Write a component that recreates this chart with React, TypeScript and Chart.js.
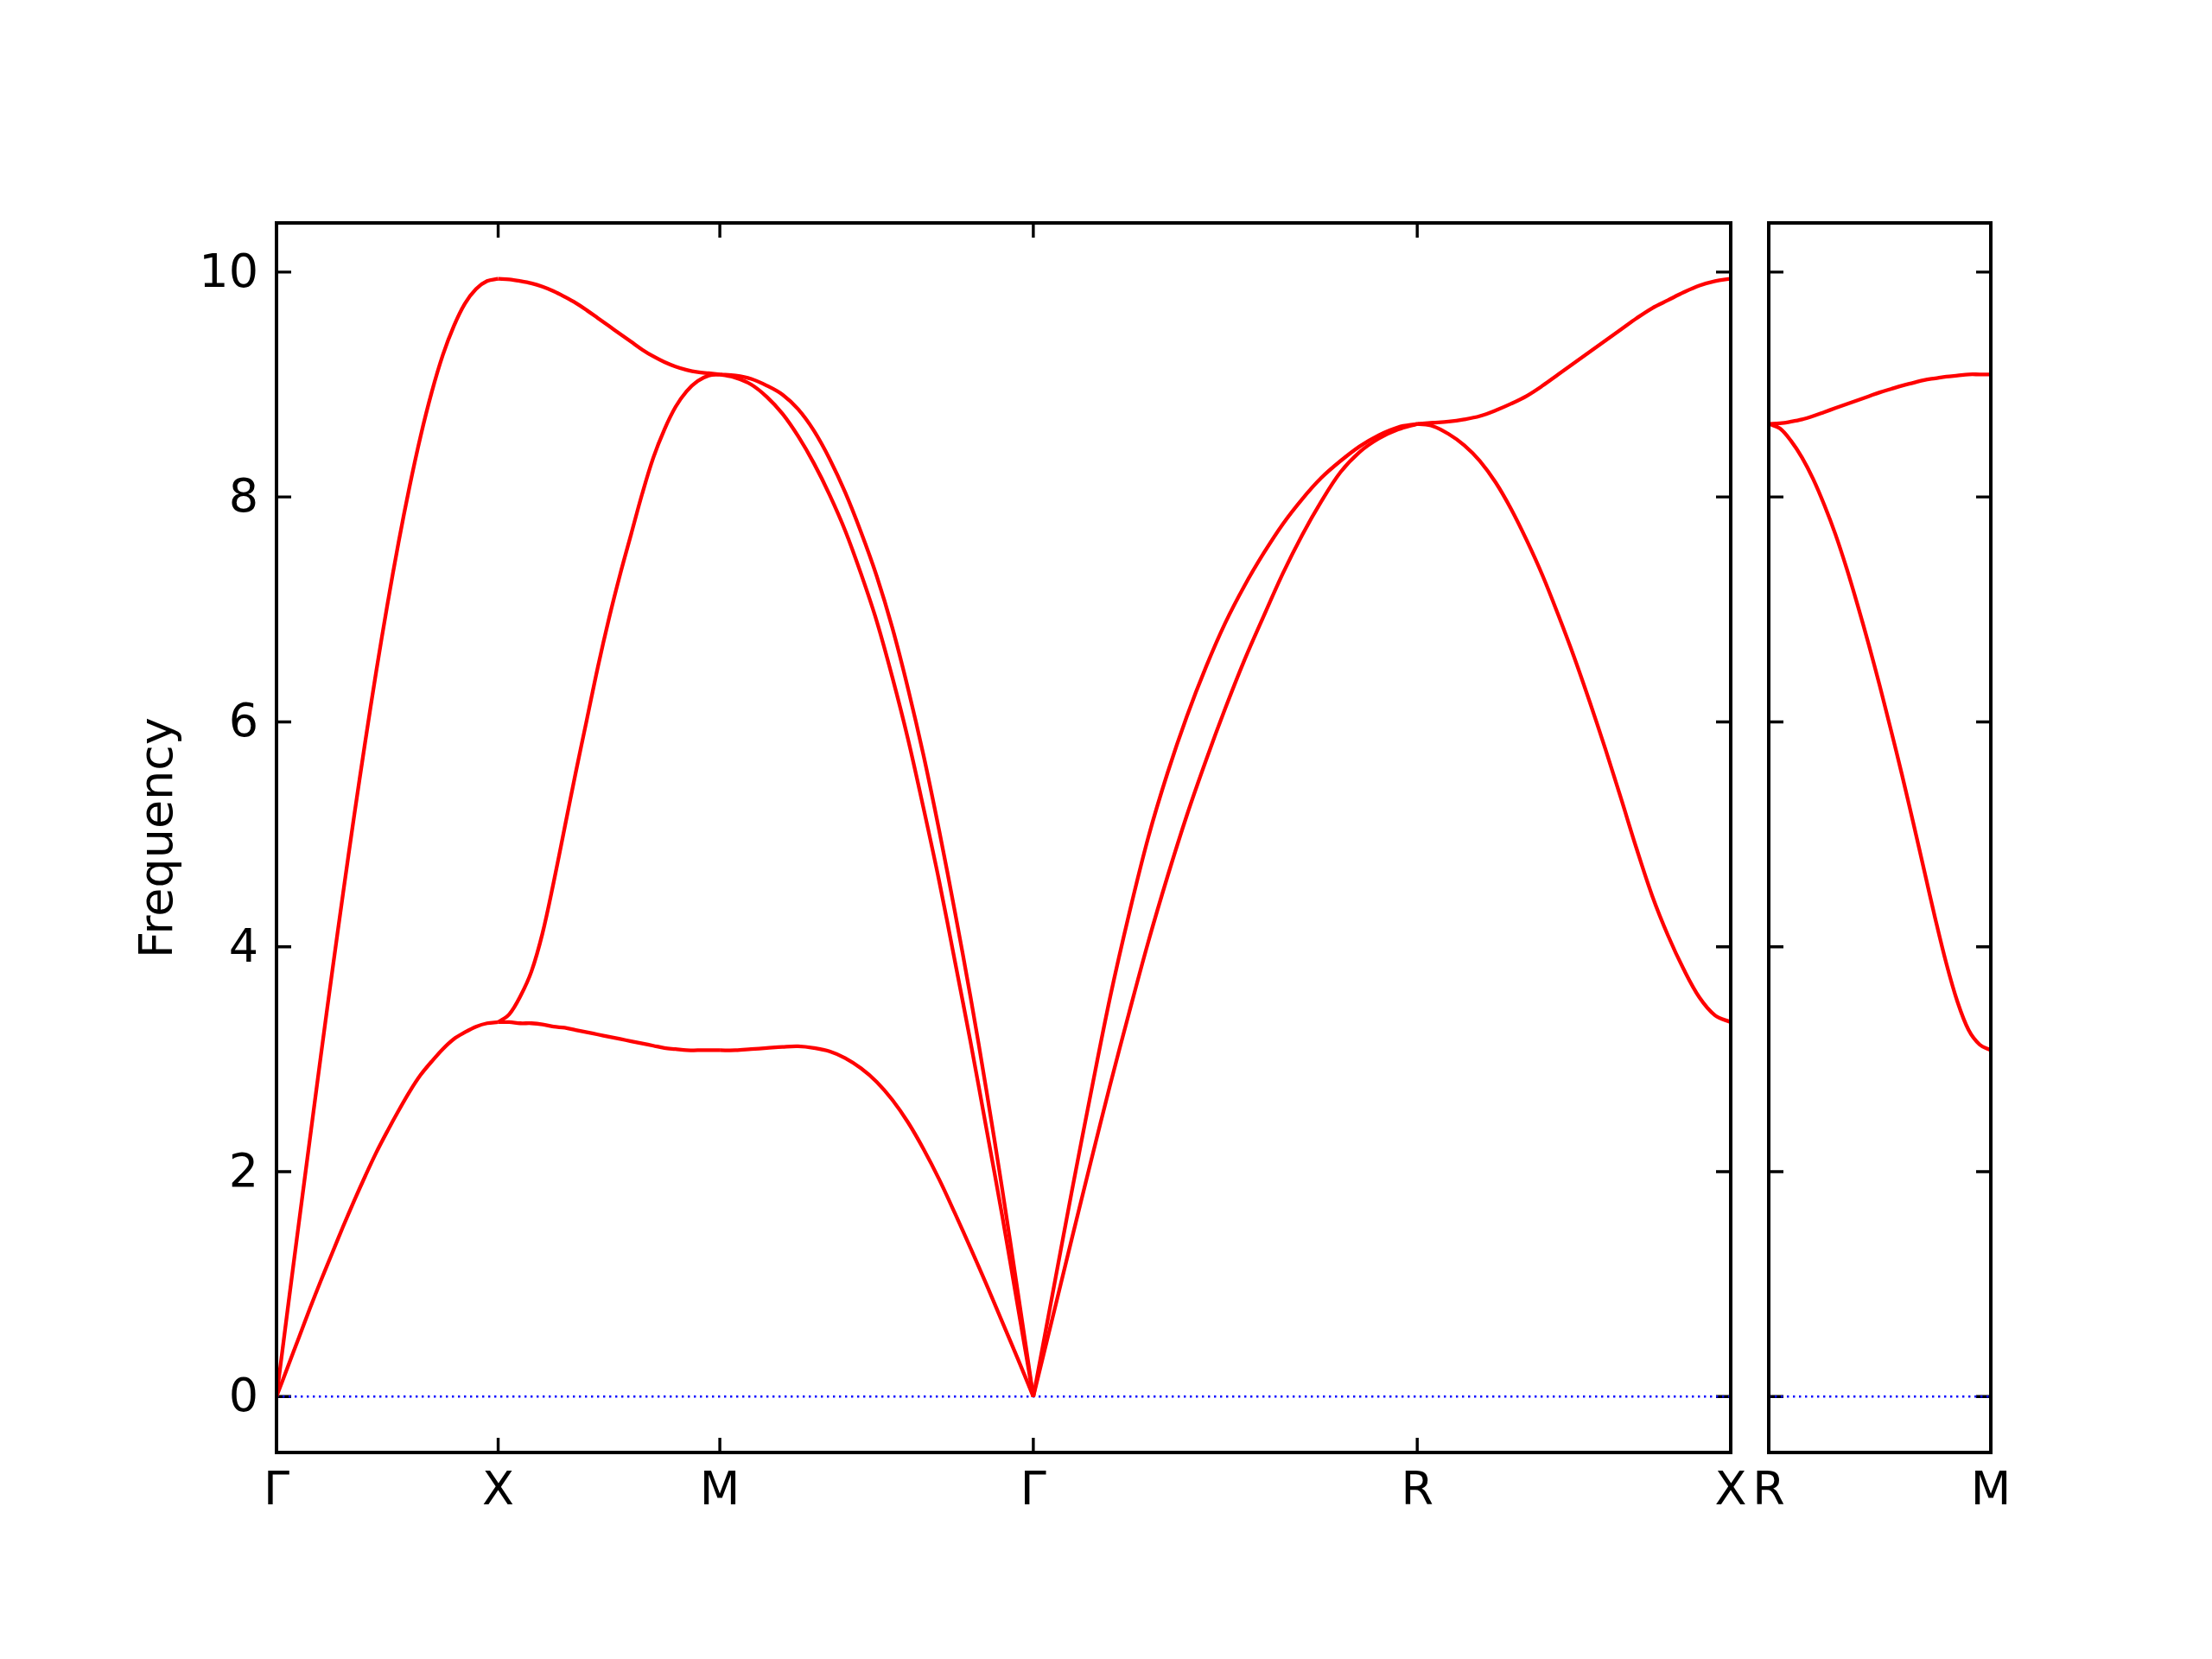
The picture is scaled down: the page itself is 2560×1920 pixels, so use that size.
import React, { useEffect, useRef } from 'react';
import { Chart, registerables } from 'chart.js';

Chart.register(...registerables);

// ---- Data ----
const pathLabels = ['Γ', 'X', 'M', 'Γ', 'R', 'X'];
const segmentLengths = [0.5, 0.5, 0.7071, 0.866, 0.7071];
const sideLabels = ['R', 'M'];
const sideLength = 0.5;
const yTickValues = [0, 2, 4, 6, 8, 10];
const yMin = -0.497;
const yMax = 10.437;
const yTitle = 'Frequency';

// Γ → X (21 samples along the segment)
const gxLower = [0, 0.26, 0.52, 0.78, 1.03, 1.27, 1.51, 1.74, 1.96, 2.17, 2.36, 2.54, 2.71, 2.86, 2.98, 3.09, 3.18, 3.24, 3.29, 3.32, 3.33];
const gxUpper = [0, 0.77, 1.53, 2.28, 3.03, 3.76, 4.47, 5.16, 5.82, 6.45, 7.04, 7.59, 8.09, 8.54, 8.93, 9.26, 9.52, 9.72, 9.85, 9.92, 9.94];
// X → M
const xmLower = [3.33, 3.33, 3.32, 3.32, 3.31, 3.29, 3.28, 3.26, 3.24, 3.22, 3.2, 3.18, 3.16, 3.14, 3.12, 3.1, 3.09, 3.08, 3.08, 3.08, 3.08];
const xmMiddle = [3.33, 3.4, 3.56, 3.78, 4.12, 4.57, 5.06, 5.55, 6.02, 6.49, 6.92, 7.31, 7.67, 8.03, 8.35, 8.6, 8.8, 8.94, 9.03, 9.08, 9.09];
const xmUpper = [9.94, 9.935, 9.92, 9.9, 9.87, 9.83, 9.78, 9.725, 9.66, 9.59, 9.52, 9.45, 9.38, 9.31, 9.25, 9.2, 9.16, 9.13, 9.11, 9.1, 9.09];
// M → Γ
const mgLower = [3.08, 3.08, 3.09, 3.1, 3.11, 3.115, 3.1, 3.07, 3.01, 2.92, 2.8, 2.64, 2.44, 2.2, 1.93, 1.63, 1.32, 1.0, 0.67, 0.34, 0];
const mgMiddle = [9.09, 9.06, 9.0, 8.89, 8.74, 8.54, 8.3, 8.02, 7.7, 7.32, 6.9, 6.4, 5.85, 5.23, 4.58, 3.87, 3.15, 2.39, 1.62, 0.81, 0];
const mgUpper = [9.09, 9.08, 9.05, 8.99, 8.91, 8.78, 8.59, 8.34, 8.04, 7.69, 7.3, 6.84, 6.3, 5.7, 5.03, 4.31, 3.55, 2.73, 1.86, 0.94, 0];
// Γ → R
const grLower = [0, 0.7, 1.4, 2.09, 2.77, 3.42, 4.05, 4.63, 5.17, 5.66, 6.12, 6.55, 6.94, 7.32, 7.66, 7.96, 8.22, 8.4, 8.52, 8.6, 8.65];
const grUpper = [0, 0.91, 1.82, 2.7, 3.55, 4.3, 4.98, 5.55, 6.05, 6.49, 6.88, 7.21, 7.5, 7.76, 7.98, 8.17, 8.32, 8.45, 8.55, 8.62, 8.65];
// R → X
const rxLower = [8.65, 8.63, 8.56, 8.46, 8.32, 8.13, 7.89, 7.61, 7.3, 6.95, 6.58, 6.18, 5.76, 5.32, 4.87, 4.45, 4.1, 3.8, 3.55, 3.39, 3.33];
const rxUpper = [8.65, 8.66, 8.67, 8.69, 8.72, 8.77, 8.83, 8.9, 8.99, 9.09, 9.19, 9.29, 9.39, 9.49, 9.59, 9.68, 9.75, 9.82, 9.88, 9.92, 9.94];
// R → M (side panel)
const rmLower = [8.65, 8.61, 8.5, 8.35, 8.16, 7.93, 7.67, 7.37, 7.04, 6.69, 6.32, 5.93, 5.53, 5.11, 4.68, 4.25, 3.85, 3.51, 3.26, 3.13, 3.08];
const rmUpper = [8.65, 8.655, 8.67, 8.69, 8.72, 8.755, 8.79, 8.825, 8.86, 8.895, 8.93, 8.96, 8.99, 9.015, 9.04, 9.055, 9.07, 9.08, 9.09, 9.09, 9.09];

const mainSegments = [
  [gxLower, gxUpper],
  [xmLower, xmMiddle, xmUpper],
  [mgLower, mgMiddle, mgUpper],
  [grLower, grUpper],
  [rxLower, rxUpper],
];
const sideSegments = [[rmLower, rmUpper]];

// ---- Styling ----
const FONT = "'DejaVu Sans', sans-serif";
const FONT_SIZE = 54;
const RED = '#ff0000';
const BLUE = '#0000ff';

function buildDatasets(segments: number[][][], lengths: number[]) {
  const sets: any[] = [];
  let start = 0;
  segments.forEach((bands, si) => {
    const len = lengths[si];
    bands.forEach((vals) => {
      sets.push({
        data: vals.map((v, i) => ({ x: start + (len * i) / (vals.length - 1), y: v })),
        borderColor: RED,
        borderWidth: 4.3,
        pointRadius: 0,
        fill: false,
        tension: 0.35,
        borderJoinStyle: 'round',
      });
    });
    start += len;
  });
  sets.push({
    data: [
      { x: 0, y: 0 },
      { x: start, y: 0 },
    ],
    borderColor: BLUE,
    borderWidth: 2.4,
    borderDash: [2.4, 4.6],
    pointRadius: 0,
    tension: 0,
    fill: false,
  });
  return sets;
}

function cumulative(lengths: number[]) {
  const out = [0];
  let s = 0;
  lengths.forEach((l) => {
    s += l;
    out.push(s);
  });
  return out;
}

const framePlugin = {
  id: 'frameTicks',
  beforeDatasetsDraw(chart: any) {
    const { ctx, chartArea } = chart;
    const { left, right, top, bottom } = chartArea;
    const xs = chart.scales.x;
    const ys = chart.scales.y;
    const L = 17;
    ctx.save();
    ctx.strokeStyle = '#000';
    ctx.lineWidth = 3.4;
    ctx.beginPath();
    yTickValues.forEach((v) => {
      const py = ys.getPixelForValue(v);
      ctx.moveTo(left, py);
      ctx.lineTo(left + L, py);
      ctx.moveTo(right, py);
      ctx.lineTo(right - L, py);
    });
    xs.ticks.forEach((t: any) => {
      const px = xs.getPixelForValue(t.value);
      ctx.moveTo(px, bottom);
      ctx.lineTo(px, bottom - L);
      ctx.moveTo(px, top);
      ctx.lineTo(px, top + L);
    });
    ctx.stroke();
    ctx.restore();
  },
  afterDatasetsDraw(chart: any) {
    const { ctx, chartArea } = chart;
    ctx.save();
    ctx.strokeStyle = '#000';
    ctx.lineWidth = 4;
    ctx.strokeRect(chartArea.left, chartArea.top, chartArea.right - chartArea.left, chartArea.bottom - chartArea.top);
    ctx.restore();
  },
};

function makeConfig(
  segments: number[][][],
  lengths: number[],
  labels: string[],
  padding: any,
  showY: boolean
): any {
  const positions = cumulative(lengths);
  const total = positions[positions.length - 1];
  return {
    type: 'line',
    data: { datasets: buildDatasets(segments, lengths) },
    plugins: [framePlugin],
    options: {
      animation: false,
      responsive: false,
      maintainAspectRatio: false,
      devicePixelRatio: 1,
      layout: { padding },
      plugins: { legend: { display: false }, tooltip: { enabled: false } },
      scales: {
        x: {
          type: 'linear',
          position: 'bottom',
          min: 0,
          max: total,
          grid: { display: false, drawTicks: false },
          border: { display: false },
          afterBuildTicks: (s: any) => {
            s.ticks = positions.map((v) => ({ value: v }));
          },
          afterFit: (s: any) => {
            s.height = 239;
          },
          ticks: {
            autoSkip: false,
            maxRotation: 0,
            minRotation: 0,
            padding: 14,
            color: '#000',
            font: { family: FONT, size: FONT_SIZE },
            callback: (_v: any, i: number) => labels[i],
          },
        },
        y: {
          type: 'linear',
          display: showY,
          min: yMin,
          max: yMax,
          grid: { display: false, drawTicks: false },
          border: { display: false },
          afterBuildTicks: (s: any) => {
            s.ticks = yTickValues.map((v) => ({ value: v }));
          },
          afterFit: (s: any) => {
            s.width = showY ? 320 : 0;
          },
          ticks: {
            display: showY,
            padding: 21,
            labelOffset: 3,
            color: '#000',
            font: { family: FONT, size: FONT_SIZE },
            callback: (v: any) => String(v),
          },
          title: {
            display: showY,
            text: yTitle,
            color: '#000',
            font: { family: FONT, size: FONT_SIZE },
            padding: { top: 153, bottom: 0 },
          },
        },
      },
    },
  };
}

export default function App() {
  const mainRef = useRef<HTMLCanvasElement>(null);
  const sideRef = useRef<HTMLCanvasElement>(null);

  useEffect(() => {
    const c1 = new Chart(
      mainRef.current as HTMLCanvasElement,
      makeConfig(mainSegments, segmentLengths, pathLabels, { left: 0, top: 258, right: 557, bottom: 0 }, true)
    );
    const c2 = new Chart(
      sideRef.current as HTMLCanvasElement,
      makeConfig(sideSegments, [sideLength], sideLabels, { left: 2047, top: 258, right: 256, bottom: 0 }, false)
    );
    return () => {
      c1.destroy();
      c2.destroy();
    };
  }, []);

  const canvasStyle: React.CSSProperties = { position: 'absolute', left: 0, top: 0, width: 2560, height: 1920 };
  return (
    <div style={{ position: 'absolute', left: 0, top: 0, width: 2560, height: 1920, background: '#fff' }}>
      <canvas ref={mainRef} width={2560} height={1920} style={canvasStyle} />
      <canvas ref={sideRef} width={2560} height={1920} style={canvasStyle} />
    </div>
  );
}
